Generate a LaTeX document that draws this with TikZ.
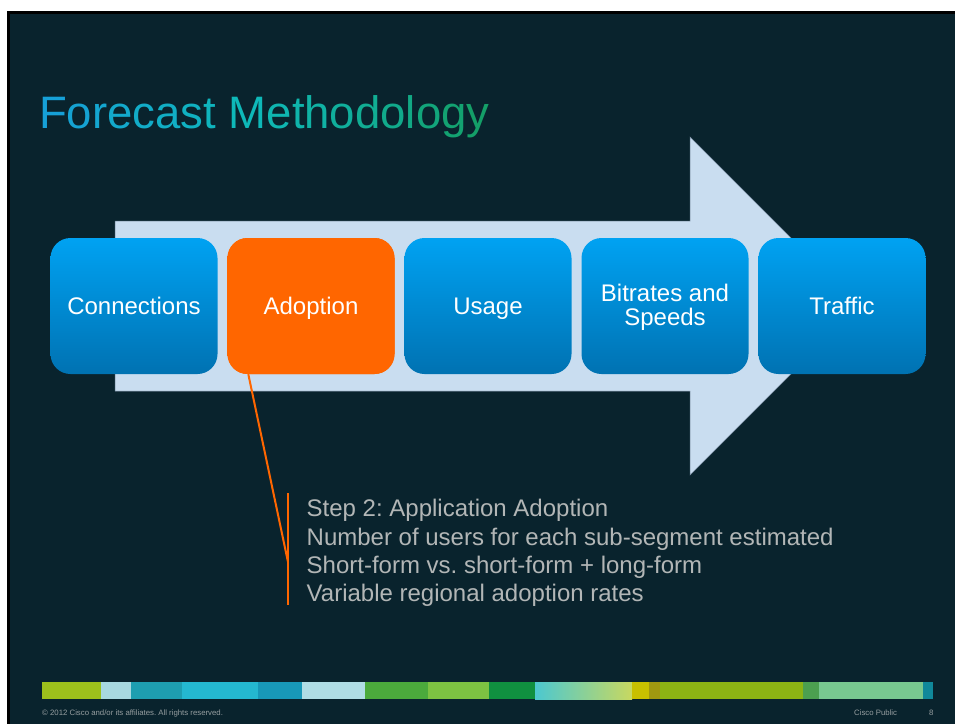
\documentclass[tikz,border=0pt]{standalone}
\usepackage{fontspec}
\setmainfont{Liberation Sans}
\usetikzlibrary{calc}
\frenchspacing
\definecolor{bg}{RGB}{9,35,45}
\definecolor{arrowfill}{RGB}{201,221,240}
\definecolor{arrowedge}{RGB}{120,140,160}
\definecolor{boxT}{RGB}{0,162,242}
\definecolor{boxB}{RGB}{0,114,178}
\definecolor{orng}{RGB}{255,102,0}
\definecolor{calltext}{RGB}{178,182,182}
\definecolor{foottext}{RGB}{150,158,160}
\definecolor{tA}{RGB}{22,160,215}
\definecolor{tB}{RGB}{14,184,184}
\definecolor{tC}{RGB}{20,158,100}
\newcommand\ca[2]{\textcolor{tA!#1!tB}{#2}}
\newcommand\cb[2]{\textcolor{tB!#1!tC}{#2}}
\begin{document}
\begin{tikzpicture}[x=1pt,y=-1pt,
  stagebox/.style={rounded corners=20pt, minimum width=167pt, minimum height=136pt,
    inner sep=0pt, top color=boxT, bottom color=boxB, text=white,
    font=\fontsize{24}{24}\selectfont, align=center, text height=17pt, text depth=0pt},
  orangebox/.style={stagebox, top color=orng, bottom color=orng, fill=orng},
  boxline/.style={anchor=base, inner sep=0pt, text=white, font=\fontsize{24}{24}\selectfont},
  calloutline/.style={anchor=base west, inner sep=0pt, text=calltext,
    font=\fontsize{24}{28}\selectfont},
  foot/.style={anchor=base west, inner sep=0pt, text=foottext,
    font=\fontsize{7.8}{9}\selectfont},
  seg/.style={draw=none}
]
\useasboundingbox (0,0) rectangle (955,724);
% background
\fill[white] (0,0) rectangle (955,724);
\fill[black] (7,11) rectangle (955,724);
\fill[bg] (10,14) rectangle (955,724);

% title
\node[anchor=base west, inner sep=0pt, font=\fontsize{45.5}{46}\selectfont] (title) at (39,128)
 {\ca{100}{F}\ca{88}{o}\ca{76}{r}\ca{64}{e}\ca{52}{c}\ca{40}{a}\ca{28}{s}\ca{16}{t} \cb{100}{M}\cb{92}{e}\cb{84}{t}\cb{76}{h}\cb{66}{o}\cb{56}{d}\cb{46}{o}\cb{38}{l}\cb{28}{o}\cb{16}{g}\cb{5}{y}};

% big arrow
\filldraw[fill=arrowfill, draw=arrowedge, line width=0.5pt]
  (115,221) -- (690,221) -- (690,137) -- (859,306) -- (690,475) -- (690,391) -- (115,391) -- cycle;

% stages
\node[stagebox] (conn) at (134,306) {Connections};
\node[orangebox] (adopt) at (311,306) {Adoption};
\node[stagebox] (usage) at (488,306) {Usage};
\node[stagebox] (bitr) at (665,306) {};
\node[boxline] (bitr1) at (665,301) {Bitrates and};
\node[boxline] (bitr2) at (665,325) {Speeds};
\node[stagebox] (traffic) at (842,306) {Traffic};

% callout
\coordinate (c1) at ($(adopt.south west)+(21,0)$);
\coordinate (c2) at (288,562);
\coordinate (bt) at (288,493);
\coordinate (bb) at (288,605);
\draw[orng, line width=2pt] (c1) -- (c2);
\draw[orng, line width=2.6pt] (bt) -- (bb);

\node[calloutline] (l1) at (306.5,516) {Step 2: Application Adoption};
\node[calloutline] (l2) at (306.5,545) {Number of users for each sub-segment estimated};
\node[calloutline] (l3) at (306.5,573) {Short-form vs. short-form + long-form};
\node[calloutline] (l4) at (306.5,601) {Variable regional adoption rates};

% footer color bar
\fill[seg, fill={rgb,255:red,157;green,192;blue,28}] (42,682) rectangle (101,699);
\fill[seg, fill={rgb,255:red,168;green,216;blue,224}] (101,682) rectangle (131,699);
\fill[seg, fill={rgb,255:red,30;green,158;blue,176}] (131,682) rectangle (182,699);
\fill[seg, fill={rgb,255:red,36;green,184;blue,208}] (182,682) rectangle (258,699);
\fill[seg, fill={rgb,255:red,24;green,152;blue,184}] (258,682) rectangle (302,699);
\fill[seg, fill={rgb,255:red,176;green,221;blue,229}] (302,682) rectangle (365,699);
\fill[seg, fill={rgb,255:red,75;green,170;blue,60}] (365,682) rectangle (428,699);
\fill[seg, fill={rgb,255:red,125;green,194;blue,66}] (428,682) rectangle (489,699);
\fill[seg, fill={rgb,255:red,16;green,144;blue,64}] (489,682) rectangle (535,699);
\shade[left color={rgb,255:red,76;green,200;blue,208}, right color={rgb,255:red,200;green,216;blue,96}] (535,682) rectangle (632,699);
\fill[seg, fill={rgb,255:red,200;green,192;blue,0}] (632,682) rectangle (649,699);
\fill[seg, fill={rgb,255:red,160;green,152;blue,16}] (649,682) rectangle (660,699);
\fill[seg, fill={rgb,255:red,140;green,180;blue,20}] (660,682) rectangle (803,699);
\fill[seg, fill={rgb,255:red,76;green,160;blue,80}] (803,682) rectangle (819,699);
\fill[seg, fill={rgb,255:red,120;green,200;blue,144}] (819,682) rectangle (923,699);
\fill[seg, fill={rgb,255:red,16;green,136;blue,154}] (923,682) rectangle (933,699);

% footer texts
\node[foot] (copy) at (42,715.5) {\textcopyright{} 2012 Cisco and/or its affiliates. All rights reserved.};
\node[foot] (pub) at (854,715.5) {Cisco Public};
\node[foot] (pg) at (929,715.5) {8};
\end{tikzpicture}
\end{document}
